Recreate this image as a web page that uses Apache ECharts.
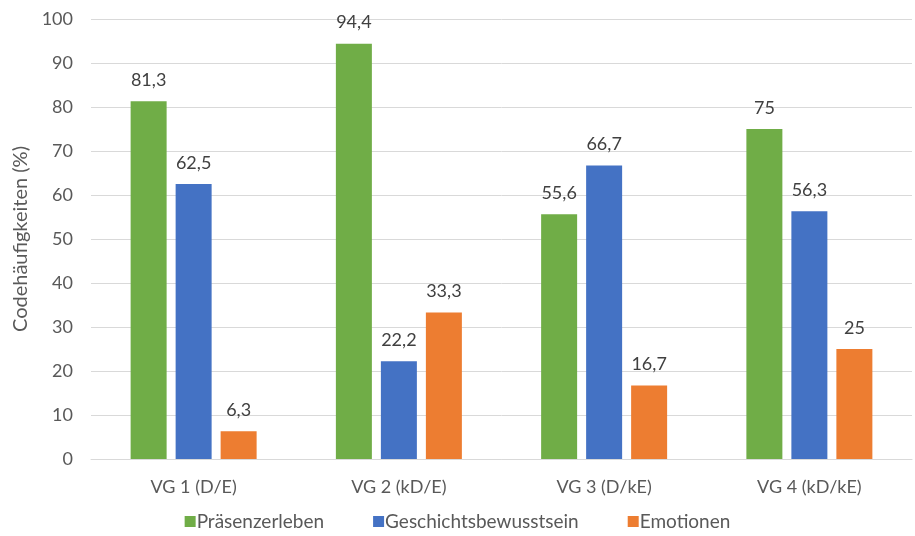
<!DOCTYPE html>
<html>
<head>
<meta charset="utf-8">
<script src="https://cdn.jsdelivr.net/npm/echarts@6/dist/echarts.min.js"></script>
<style>
  html, body { margin: 0; padding: 0; background: #fff; }
  #chart { width: 915px; height: 536px; }
</style>
</head>
<body>
<div id="chart"></div>
<script>
// Categories and series values
const categories = ['VG 1 (D/E)', 'VG 2 (kD/E)', 'VG 3 (D/kE)', 'VG 4 (kD/kE)'];
const praesenzerleben = [81.3, 94.4, 55.6, 75];
const geschichtsbewusstsein = [62.5, 22.2, 66.7, 56.3];
const emotionen = [6.3, 33.3, 16.7, 25];
const seriesNames = ['Präsenzerleben', 'Geschichtsbewusstsein', 'Emotionen'];
const seriesColors = ['#70AD47', '#4472C4', '#ED7D31'];

const FONT = '"Source Sans Pro", Lato, "Noto Sans", sans-serif';
const TEXT = '#595959';
const SIZE = 18;

const fmt = v => String(v).replace('.', ',');

function makeSeries(name, data, color) {
  return {
    name, type: 'bar', data,
    barWidth: 36,
    barGap: '25%',
    itemStyle: { color },
    label: {
      show: true, position: 'top', distance: 12,
      color: '#404040', fontFamily: FONT, fontSize: SIZE,
      formatter: p => fmt(p.value)
    }
  };
}

const chart = echarts.init(document.getElementById('chart'));
chart.setOption({
  animation: false,
  textStyle: { fontFamily: FONT },
  grid: { left: 91, right: 3, top: 19, bottom: 77, containLabel: false },
  legend: {
    bottom: 0, left: 'center',
    itemWidth: 11, itemHeight: 11, itemGap: 49,
    icon: 'rect',
    textStyle: { color: TEXT, fontFamily: FONT, fontSize: 19, padding: [0, 0, 0, -4] },
    data: seriesNames
  },
  xAxis: {
    type: 'category', data: categories,
    axisLine: { lineStyle: { color: '#D9D9D9', width: 1 } },
    axisTick: { show: false },
    axisLabel: { color: TEXT, fontFamily: FONT, fontSize: SIZE, margin: 19 }
  },
  yAxis: {
    type: 'value', min: 0, max: 100, interval: 10,
    name: 'Codehäufigkeiten (%)',
    nameLocation: 'middle', nameGap: 59, nameRotate: 90,
    nameTextStyle: { color: TEXT, fontFamily: FONT, fontSize: 20 },
    axisLine: { show: false },
    axisTick: { show: false },
    axisLabel: { color: TEXT, fontFamily: FONT, fontSize: SIZE, margin: 18 },
    splitLine: { lineStyle: { color: '#D9D9D9', width: 1 } }
  },
  series: [
    makeSeries(seriesNames[0], praesenzerleben, seriesColors[0]),
    makeSeries(seriesNames[1], geschichtsbewusstsein, seriesColors[1]),
    makeSeries(seriesNames[2], emotionen, seriesColors[2])
  ]
});
</script>
</body>
</html>
